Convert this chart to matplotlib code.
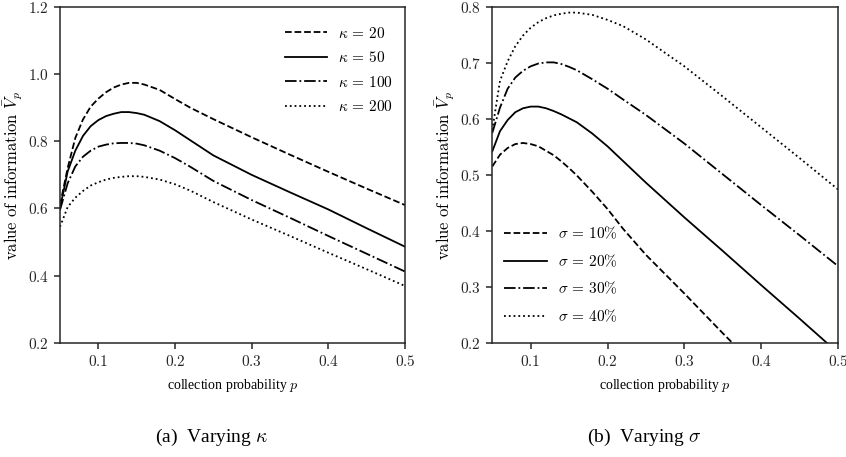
"""Value of information against collection probability, two sensitivity panels."""
import matplotlib
matplotlib.use('Agg')
import matplotlib.pyplot as plt
from matplotlib.ticker import FuncFormatter, MultipleLocator


# collection probability grid
p = [0.05, 0.06, 0.07, 0.08, 0.09, 0.10, 0.11, 0.12, 0.13, 0.14, 0.15,
     0.16, 0.18, 0.20, 0.22, 0.25, 0.30, 0.35, 0.40, 0.45, 0.50]

# (a) varying kappa
kappa = [20, 50, 100, 200]
v_kappa_20 = [0.610, 0.720, 0.810, 0.865, 0.903, 0.927, 0.946, 0.960, 0.969,
              0.974, 0.974, 0.969, 0.953, 0.926, 0.900, 0.866, 0.812, 0.760,
              0.709, 0.659, 0.610]
v_kappa_50 = [0.600, 0.710, 0.772, 0.816, 0.845, 0.863, 0.875, 0.882, 0.887,
              0.887, 0.884, 0.879, 0.860, 0.833, 0.803, 0.758, 0.700, 0.648,
              0.597, 0.541, 0.486]
v_kappa_100 = [0.595, 0.675, 0.725, 0.754, 0.772, 0.784, 0.790, 0.794, 0.795,
               0.795, 0.793, 0.788, 0.772, 0.750, 0.724, 0.682, 0.625, 0.572,
               0.518, 0.465, 0.412]
v_kappa_200 = [0.545, 0.604, 0.632, 0.652, 0.668, 0.678, 0.686, 0.691, 0.694,
               0.696, 0.696, 0.694, 0.686, 0.672, 0.653, 0.619, 0.567, 0.518,
               0.468, 0.419, 0.369]

# (b) varying sigma (percent)
sigma = [10, 20, 30, 40]
v_sigma_10 = [0.515, 0.536, 0.548, 0.555, 0.557, 0.555, 0.551, 0.543, 0.535,
              0.524, 0.512, 0.499, 0.470, 0.439, 0.404, 0.357, 0.288, 0.217,
              0.148]
v_sigma_20 = [0.542, 0.578, 0.598, 0.612, 0.619, 0.622, 0.622, 0.619, 0.614,
              0.608, 0.601, 0.594, 0.574, 0.551, 0.525, 0.486, 0.424, 0.364,
              0.303, 0.243, 0.182]
v_sigma_30 = [0.575, 0.620, 0.654, 0.674, 0.686, 0.694, 0.699, 0.701, 0.701,
              0.698, 0.693, 0.687, 0.671, 0.654, 0.635, 0.607, 0.556, 0.501,
              0.446, 0.392, 0.337]
v_sigma_40 = [0.580, 0.668, 0.703, 0.730, 0.749, 0.763, 0.773, 0.780, 0.785,
              0.788, 0.790, 0.790, 0.786, 0.777, 0.766, 0.742, 0.694, 0.640,
              0.585, 0.530, 0.474]

line_styles = ['--', '-', '-.', ':']

plt.rcParams.update({
    'font.family': ['Liberation Serif', 'DejaVu Serif'],
    'mathtext.fontset': 'cm',
    'axes.edgecolor': '0.15',
    'axes.linewidth': 1.1,
    'xtick.color': '0.15',
    'ytick.color': '0.15',
    'xtick.major.size': 4.5,
    'ytick.major.size': 4.5,
    'xtick.major.width': 1.1,
    'ytick.major.width': 1.1,
    'xtick.major.pad': 3.5,
    'ytick.major.pad': 3.5,
    'xtick.labelsize': 11,
    'ytick.labelsize': 11,
})


def style_axes(ax, ymin, ymax, ystep):
    """Limits, ticks and labels shared by both panels."""
    ax.set_xlim(0.05, 0.5)
    ax.set_ylim(ymin, ymax)
    ax.xaxis.set_major_locator(MultipleLocator(0.1))
    ax.yaxis.set_major_locator(MultipleLocator(ystep))
    fmt = FuncFormatter(lambda v, _: f'${v:.1f}$')
    ax.xaxis.set_major_formatter(fmt)
    ax.yaxis.set_major_formatter(fmt)
    ax.set_xlabel(r'collection probability $p$', fontsize=10, labelpad=6)
    ax.set_ylabel(r'$\mathrm{value\ of\ information}\ \bar{V}_p$',
                  fontsize=12, labelpad=2)


fig = plt.figure(figsize=(8.46, 4.57), dpi=100)
ax_k = fig.add_axes([0.0709, 0.2501, 0.4078, 0.7346])
ax_s = fig.add_axes([0.5819, 0.2501, 0.4086, 0.7346])

# Panel (a)
for k, vals, ls in zip(kappa, [v_kappa_20, v_kappa_50, v_kappa_100, v_kappa_200],
                       line_styles):
    ax_k.plot(p[:len(vals)], vals, ls, color='black', lw=1.3,
              label=rf'$\kappa\, =\, {k}$')
style_axes(ax_k, 0.2, 1.2, 0.2)
ax_k.legend(loc='upper right', frameon=False, fontsize=11, handlelength=2.8,
            handletextpad=0.7, labelspacing=0.62,
            bbox_to_anchor=(1.005, 0.985))

# Panel (b)
for s, vals, ls in zip(sigma, [v_sigma_10, v_sigma_20, v_sigma_30, v_sigma_40],
                       line_styles):
    ax_s.plot(p[:len(vals)], vals, ls, color='black', lw=1.3,
              label=rf'$\sigma\, =\, {s}\%$')
style_axes(ax_s, 0.2, 0.8, 0.1)
ax_s.legend(loc='lower left', frameon=False, fontsize=11, handlelength=2.8,
            handletextpad=0.7, labelspacing=0.72,
            bbox_to_anchor=(-0.005, 0.015))

# Sub-figure captions
fig.text(0.250, 0.042, r'(a)  Varying $\kappa$', ha='center', va='center',
         fontsize=14)
fig.text(0.761, 0.042, r'(b)  Varying $\sigma$', ha='center', va='center',
         fontsize=14)

fig.savefig('out.png', dpi=100)
